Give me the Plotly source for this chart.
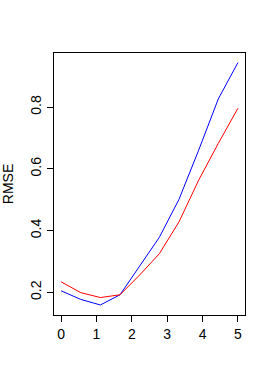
import plotly.graph_objects as go

x_vals = [0, 0.5556, 1.1111, 1.6667, 2.2222, 2.7778, 3.3333, 3.8889, 4.4444, 5.0]
blue_rmse = [0.205, 0.177, 0.159, 0.192, 0.285, 0.378, 0.501, 0.66, 0.826, 0.944]
red_rmse = [0.234, 0.199, 0.183, 0.192, 0.256, 0.325, 0.428, 0.563, 0.682, 0.796]
x_ticks = [0, 1, 2, 3, 4, 5]
y_ticks = [0.2, 0.4, 0.6, 0.8]
y_label = "RMSE"

font = dict(family="Liberation Sans, Arial, Helvetica, sans-serif", size=14, color="black")

fig = go.Figure()
fig.add_trace(go.Scatter(x=x_vals, y=blue_rmse, mode="lines",
                         line=dict(color="#0000FF", width=1), showlegend=False))
fig.add_trace(go.Scatter(x=x_vals, y=red_rmse, mode="lines",
                         line=dict(color="#FF0000", width=1), showlegend=False))

fig.update_layout(
    width=273, height=382,
    margin=dict(l=54, r=27.5, t=52.7, b=67),
    paper_bgcolor="white", plot_bgcolor="white",
    font=font,
    xaxis=dict(range=[-0.2, 5.2], tickvals=x_ticks, ticktext=[str(v) for v in x_ticks],
               showgrid=False, zeroline=False, showline=True, mirror=True,
               linecolor="black", linewidth=1, ticks="outside", ticklen=6,
               tickcolor="black", tickwidth=1, tickfont=font),
    yaxis=dict(range=[0.1265, 0.975], tickvals=y_ticks, ticktext=[str(v) for v in y_ticks],
               showgrid=False, zeroline=False, showline=True, mirror=True,
               linecolor="black", linewidth=1, ticks="outside", ticklen=6,
               tickcolor="black", tickwidth=1, tickangle=-90, tickfont=font),
    annotations=[dict(text=y_label, xref="paper", yref="paper", x=-0.24, y=0.5,
                      xanchor="center", yanchor="middle", textangle=-90,
                      showarrow=False, font=font)],
)

fig.write_html("out.html", config={"displayModeBar": False},
               post_script="document.body.style.margin='0';")
